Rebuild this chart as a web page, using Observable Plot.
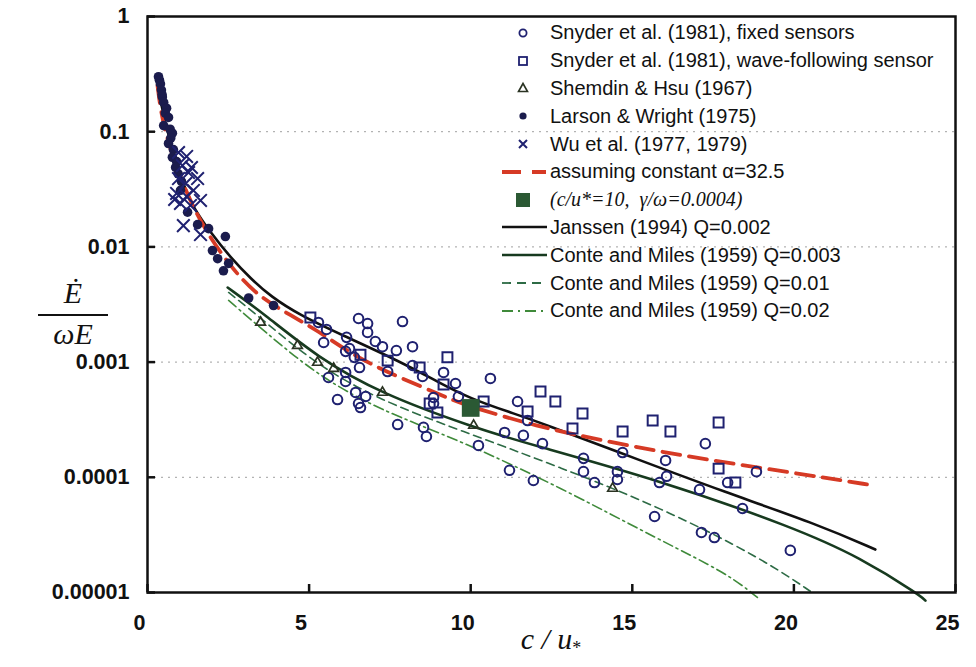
<!DOCTYPE html>
<html>
<head>
<meta charset="utf-8">
<script src="https://cdn.jsdelivr.net/npm/d3@7"></script>
<script src="https://cdn.jsdelivr.net/npm/@observablehq/plot@0.6"></script>
<style>
  body { margin: 0; background: #fff; }
  #wrap { position: relative; width: 976px; height: 667px; font-family: "Liberation Sans", Arial, sans-serif; color: #111; }
  #wrap > svg { display: block; }
  .legend { position: absolute; left: 500px; top: 19px; }
  .row { display: flex; align-items: center; height: 27.8px; font-size: 20px; white-space: pre; }
  .row svg { flex: none; margin-right: 2px; }
  .row .it { font-family: "Liberation Serif", "Times New Roman", serif; font-style: italic; }
  .ylab { position: absolute; left: 38px; top: 276px; width: 70px; text-align: center;
          font: italic 30px/34px "Liberation Serif", "Times New Roman", serif; }
  .ylab .bar { height: 2px; background: #111; margin: 4px 0 1px 0; }
  .xlab { position: absolute; left: 451px; top: 622px; width: 200px; text-align: center;
          font: italic 30px/34px "Liberation Serif", "Times New Roman", serif; }
  .xlab sub { font-size: 18px; font-style: normal; vertical-align: -5px; }
</style>
</head>
<body>
<div id="wrap"></div>
<script>
// Axis ticks and labels
const xTicks = [0, 5, 10, 15, 20, 25];
const yTicks = [1, 0.1, 0.01, 0.001, 0.0001, 0.00001];
const yTickLabels = ["1", "0.1", "0.01", "0.001", "0.0001", "0.00001"];
const gridLevels = [0.1, 0.01, 0.001, 0.0001];

// Observations: [c/u*, growth rate]
const snyderFixed = [
  [5.29,0.00221],[5.54,0.00192],[5.45,0.00148],[6.53,0.00239],[6.81,0.00216],[6.81,0.00181],
  [7.89,0.00225],[6.16,0.00164],[6.25,0.00131],[6.13,0.00124],[6.40,0.00110],[6.56,0.000897],
  [7.05,0.00151],[7.27,0.00136],[7.70,0.00126],[8.20,0.00136],[8.20,0.000934],[8.51,0.00075],
  [9.16,0.000813],[9.53,0.000652],[9.62,0.000503],[8.85,0.000493],[8.85,0.000437],[7.43,0.000828],
  [6.13,0.000813],[5.60,0.000735],[6.13,0.000679],[5.88,0.000473],[6.44,0.000545],[6.75,0.000503],
  [6.53,0.000437],[6.59,0.000403],[7.74,0.000287],[8.54,0.000271],[8.63,0.000226],[10.24,0.000189],
  [10.61,0.000721],[11.45,0.000455],[11.76,0.000311],[11.05,0.000245],[11.63,0.000231],[12.22,0.000196],
  [11.20,0.000115],[11.94,0.0000938],[13.49,0.000146],[13.49,0.000112],[13.83,0.000090],[14.54,0.000112],
  [14.54,0.0000957],[14.70,0.000164],[16.03,0.000140],[16.06,0.000102],[15.84,0.000090],[17.26,0.000196],
  [17.08,0.0000783],[18.41,0.0000536],[18.84,0.000112],[17.95,0.000090],[15.69,0.0000457],[17.14,0.0000332],
  [17.54,0.0000300],[19.89,0.0000232]
];
const snyderWave = [
  [5.04,0.00244],[6.59,0.00116],[7.43,0.00103],[8.42,0.000897],[9.28,0.00110],[9.16,0.00064],
  [8.73,0.000437],[8.97,0.000365],[10.40,0.000455],[12.16,0.000556],[12.62,0.000455],[11.76,0.000373],
  [13.46,0.000358],[13.15,0.000265],[14.70,0.000250],[15.63,0.000311],[16.18,0.000250],[17.67,0.000299],
  [17.67,0.000119],[18.19,0.000090]
];
const shemdinHsu = [
  [3.50,0.00221],[4.64,0.00139],[5.26,0.000993],[5.76,0.00088],[7.27,0.000545],[10.09,0.000282],[14.39,0.00008]
];
const larsonWright = [
  [0.34,0.30],[0.37,0.28],[0.40,0.26],[0.43,0.23],[0.46,0.20],[0.45,0.21],[0.50,0.18],[0.59,0.16],
  [0.55,0.145],[0.65,0.133],[0.50,0.113],[0.70,0.105],[0.77,0.097],[0.72,0.088],[0.65,0.079],[0.80,0.070],
  [0.77,0.060],[0.90,0.055],[0.87,0.049],[0.95,0.043],[1.05,0.037],[1.02,0.031],[1.24,0.020],[1.55,0.0156],
  [1.89,0.0144],[2.41,0.0123],[2.01,0.0093],[2.17,0.0079],[2.35,0.0062],[2.51,0.0072],[3.13,0.0036],[3.90,0.0031]
];
const wuEtAl = [
  [0.96,0.066],[1.21,0.061],[1.36,0.0489],[1.55,0.0392],[0.96,0.0392],[1.18,0.0355],[1.42,0.0309],
  [0.90,0.0291],[1.21,0.0274],[1.64,0.0253],[1.02,0.0238],[1.33,0.0229],[0.84,0.0258],[1.11,0.0153],
  [1.64,0.0128],[1.08,0.0509],[1.27,0.0442]
];
const referencePoint = [[10, 0.0004]];

// Model curves: [c/u*, growth rate]
const alphaConst = [
  [0.31,0.252],[0.50,0.0965],[1.42,0.0195],[2.57,0.00663],[3.40,0.00379],[4.33,0.00264],[5.26,0.00188],
  [6.28,0.00119],[7.30,0.000846],[8.54,0.000602],[9.47,0.000464],[10.09,0.000403],[11.94,0.000282],
  [14.33,0.000200],[17.42,0.000140],[20.51,0.000104],[22.46,0.000085]
];
const janssen = [
  [0.31,0.252],[0.56,0.113],[0.87,0.056],[1.18,0.031],[1.42,0.0220],[1.95,0.0133],[2.57,0.00809],
  [3.19,0.00532],[3.81,0.00371],[4.73,0.00254],[5.97,0.00174],[7.83,0.00101],[9.07,0.000652],
  [9.99,0.000483],[11.23,0.000365],[12.16,0.000299],[15.25,0.000140],[17.73,0.0000768],
  [20.82,0.0000382],[22.52,0.0000236]
];
const conteQ003 = [
  [2.48,0.00444],[3.59,0.00264],[5.26,0.00110],[7.21,0.000534],[10.09,0.000271],[11.76,0.000196],
  [15.87,0.0000938],[19.99,0.0000367],[22.06,0.0000201],[23.92,0.0000094],[24.07,0.0000085]
];
const conteQ01 = [
  [2.51,0.00402],[3.59,0.00230],[5.26,0.000934],[7.21,0.000464],[9.68,0.000255],[12.78,0.000122],
  [15.87,0.0000547],[18.97,0.0000201],[20.61,0.0000098]
];
const conteQ02 = [
  [2.51,0.00343],[3.59,0.00188],[5.26,0.000765],[7.21,0.00038],[9.68,0.000209],[12.78,0.0000815],
  [15.87,0.0000283],[17.95,0.0000146],[18.87,0.00000905]
];

const navy = "#1f2170";
const dotNavy = "#1b1c4d";
const red = "#d63a25";
const green1 = "#173a1f";
const green2 = "#2d6b45";
const green3 = "#3f8a3a";
const squareGreen = "#2b5934";

const X = d => d[0], Y = d => d[1];

const chart = Plot.plot({
  width: 976,
  height: 667,
  marginLeft: 147,
  marginRight: 21,
  marginTop: 16,
  marginBottom: 75,
  style: {fontFamily: "Liberation Sans, Arial, sans-serif", background: "white", color: "#111", overflow: "visible"},
  x: {domain: [0, 25]},
  y: {type: "log", domain: [1e-5, 1]},
  marks: [
    Plot.ruleY(gridLevels, {stroke: "#a0a0a0", strokeDasharray: "2,5", strokeWidth: 1}),
    Plot.line(conteQ02, {x: X, y: Y, stroke: green3, strokeWidth: 1.6, strokeDasharray: "10,4,2,4", curve: "basis"}),
    Plot.line(conteQ01, {x: X, y: Y, stroke: green2, strokeWidth: 1.6, strokeDasharray: "8,5", curve: "basis"}),
    Plot.line(conteQ003, {x: X, y: Y, stroke: green1, strokeWidth: 2.6, curve: "basis"}),
    Plot.line(janssen, {x: X, y: Y, stroke: "#111", strokeWidth: 2.6, curve: "basis"}),
    Plot.line(alphaConst, {x: X, y: Y, stroke: red, strokeWidth: 3.8, strokeDasharray: "18,9", curve: "basis"}),
    Plot.dot(snyderFixed, {x: X, y: Y, r: 4.8, stroke: navy, strokeWidth: 2, fill: "none"}),
    Plot.dot(snyderWave, {x: X, y: Y, symbol: "square", r: 5.6, stroke: navy, strokeWidth: 2, fill: "none"}),
    Plot.dot(shemdinHsu, {x: X, y: Y, symbol: "triangle", r: 3.6, stroke: "#2a3322", strokeWidth: 1.7, fill: "none"}),
    Plot.dot(larsonWright, {x: X, y: Y, r: 4.8, fill: dotNavy, stroke: "none"}),
    Plot.dot(wuEtAl, {x: X, y: Y, symbol: "times", r: 5.8, stroke: navy, strokeWidth: 2}),
    Plot.dot(referencePoint, {x: X, y: Y, symbol: "square", r: 10, fill: squareGreen, stroke: "none"}),
    // inward tick marks
    Plot.axisY({ticks: yTicks, tickSize: -8, fill: "none", stroke: "#111", strokeWidth: 2.5}),
    Plot.axisX({ticks: xTicks, tickSize: -8, fill: "none", stroke: "#111", strokeWidth: 2.5}),
    // tick labels
    Plot.axisY({ticks: yTicks, tickSize: 0, tickPadding: 18, tickFormat: d => yTickLabels[yTicks.indexOf(d)],
                fontSize: 21.5, fontWeight: "bold", label: null}),
    Plot.axisX({ticks: xTicks, tickSize: 0, tickPadding: 22, tickFormat: d => String(d), dx: -8,
                fontSize: 21.5, fontWeight: "bold", label: null}),
    Plot.frame({stroke: "#111", strokeWidth: 2.5})
  ]
});

const wrap = document.getElementById("wrap");
wrap.appendChild(chart);

// Legend
const legendItems = [
  {label: "Snyder et al. (1981), fixed sensors", glyph: `<circle cx="23" cy="10" r="3.6" fill="none" stroke="${navy}" stroke-width="1.8"/>`},
  {label: "Snyder et al. (1981), wave-following sensor", glyph: `<rect x="19" y="6" width="8" height="8" fill="none" stroke="${navy}" stroke-width="1.8"/>`},
  {label: "Shemdin & Hsu (1967)", glyph: `<path d="M23,5.5L27.5,13.5L18.5,13.5Z" fill="none" stroke="#2a3322" stroke-width="1.6"/>`},
  {label: "Larson & Wright (1975)", glyph: `<circle cx="23" cy="10" r="3.6" fill="${dotNavy}"/>`},
  {label: "Wu et al. (1977, 1979)", glyph: `<path d="M19,6L27,14M27,6L19,14" stroke="${navy}" stroke-width="2"/>`},
  {label: "assuming constant α=32.5", glyph: `<path d="M2,10H46" stroke="${red}" stroke-width="3.8" stroke-dasharray="19,11"/>`},
  {label: "(c/u*=10,  γ/ω=0.0004)", italic: true, glyph: `<rect x="16" y="3" width="14" height="14" fill="${squareGreen}"/>`},
  {label: "Janssen (1994) Q=0.002", glyph: `<path d="M2,10H47" stroke="#111" stroke-width="2.6"/>`},
  {label: "Conte and Miles (1959) Q=0.003", glyph: `<path d="M2,10H47" stroke="${green1}" stroke-width="2.6"/>`},
  {label: "Conte and Miles (1959) Q=0.01", glyph: `<path d="M2,10H46" stroke="${green2}" stroke-width="1.8" stroke-dasharray="9,6"/>`},
  {label: "Conte and Miles (1959) Q=0.02", glyph: `<path d="M2,10H46" stroke="${green3}" stroke-width="1.8" stroke-dasharray="11,5,2,5"/>`}
];
const legend = document.createElement("div");
legend.className = "legend";
legend.innerHTML = legendItems.map(item =>
  `<div class="row"><svg width="48" height="20" viewBox="0 0 48 20">${item.glyph}</svg>` +
  `<span class="${item.italic ? "it" : ""}">${item.label.replace(/&/g, "&amp;")}</span></div>`
).join("");
wrap.appendChild(legend);

// Axis titles
const ylab = document.createElement("div");
ylab.className = "ylab";
ylab.innerHTML = `<div>E&#x0307;</div><div class="bar"></div><div>ωE</div>`;
wrap.appendChild(ylab);

const xlab = document.createElement("div");
xlab.className = "xlab";
xlab.innerHTML = `c / u<sub>*</sub>`;
wrap.appendChild(xlab);
</script>
</body>
</html>
